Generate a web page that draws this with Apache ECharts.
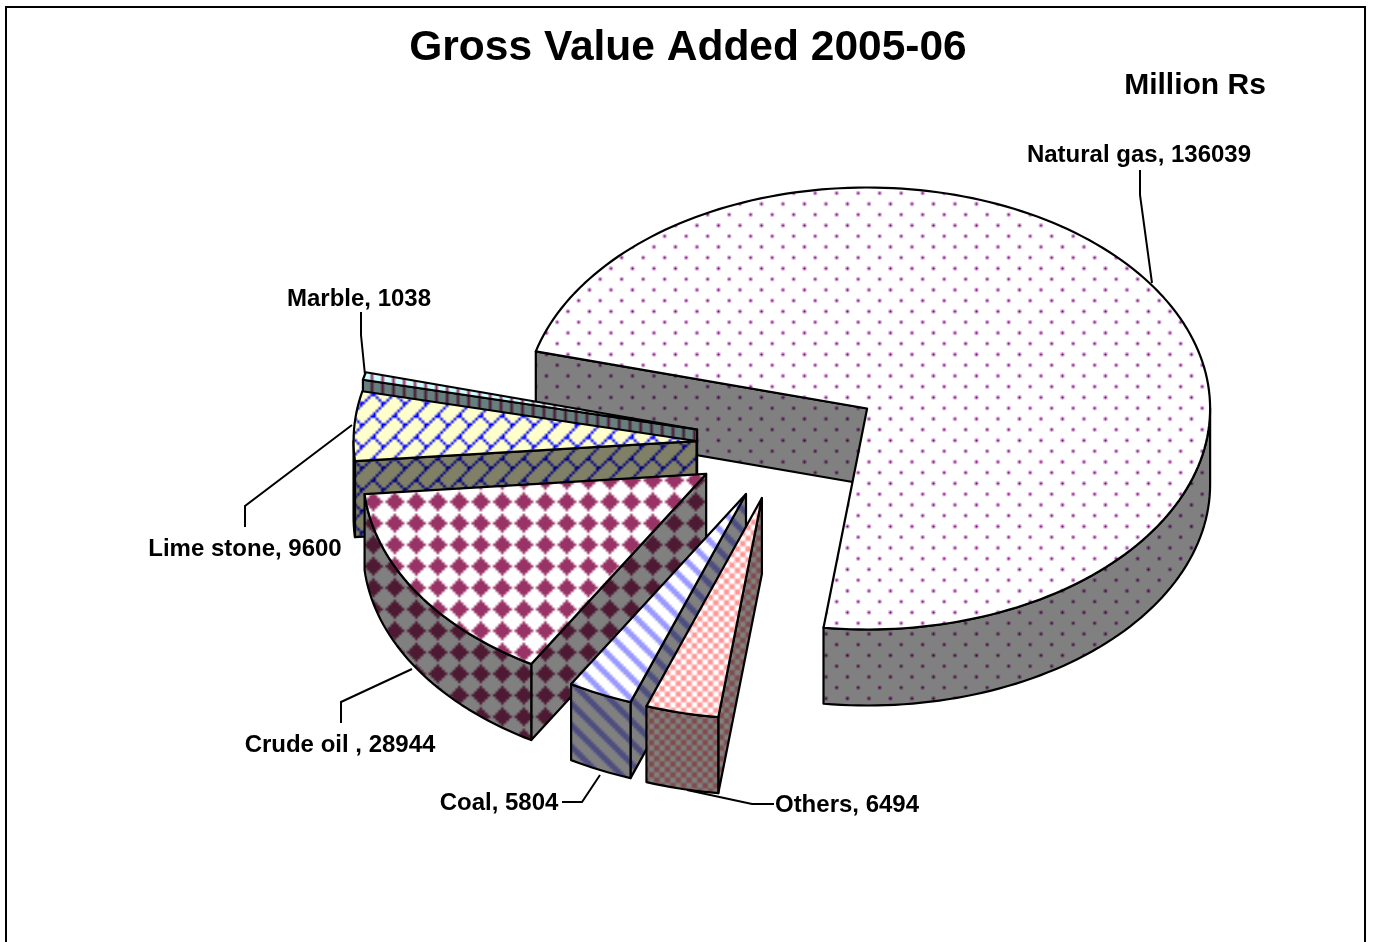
<!DOCTYPE html>
<html>
<head>
<meta charset="utf-8">
<title>Gross Value Added 2005-06</title>
<script src="https://cdn.jsdelivr.net/npm/echarts@6/dist/echarts.min.js"></script>
<style>
  html, body { margin: 0; padding: 0; background: #fff; }
  #chart { width: 1373px; height: 942px; }
</style>
</head>
<body>
<div id="chart"></div>
<script>
const chartTitle = "Gross Value Added 2005-06";
const unitLabel = "Million Rs";
const categories = ["Natural gas", "Others", "Coal", "Crude oil ", "Lime stone", "Marble"];
const values = [136039, 6494, 5804, 28944, 9600, 1038];

// excel paints the slices back to front
const drawOrder = [0, 5, 4, 3, 2, 1];

// pie geometry
const centerX = 778;
const centerY = 445;
const radiusX = 343;
const radiusY = 221;
const depth = 76;
const firstAngle = 195; // degrees, clockwise on screen
const explodeX = [0.316, 0.229, 0.233, 0.25, 0.238, 0.243];
const explodeY = [0.29, 0.245, 0.242, 0.24, 0.27, 0.29];

// 8x8 excel fill bitmaps
const BITMAP_DOTS = [0x80, 0, 0, 0, 0x08, 0, 0, 0];
const BITMAP_CHECKER = [0x99, 0x66, 0x66, 0x99, 0x99, 0x66, 0x66, 0x99];
const BITMAP_WIDE_DIAG = [0x83, 0xc1, 0xe0, 0x70, 0x38, 0x1c, 0x0e, 0x07];
const BITMAP_DIAMOND = [0x08, 0x1c, 0x3e, 0x7f, 0x3e, 0x1c, 0x08, 0x00];
const BITMAP_BRICK = [0x01, 0x02, 0x04, 0x08, 0x18, 0x24, 0x42, 0x81];
const BITMAP_VLINES = [0x88, 0x88, 0x88, 0x88, 0x88, 0x88, 0x88, 0x88];

const PERIOD = 21.5; // one bitmap repeat on screen

function makeTile(rows, fg, bg, phaseX, phaseY) {
  const src = document.createElement("canvas");
  src.width = 48;
  src.height = 48;
  const sctx = src.getContext("2d");
  sctx.fillStyle = bg;
  sctx.fillRect(0, 0, 48, 48);
  sctx.fillStyle = fg;
  for (let y = 0; y < 48; y++) {
    for (let x = 0; x < 48; x++) {
      if (rows[y % 8] & (0x80 >> (x % 8))) sctx.fillRect(x, y, 1, 1);
    }
  }
  const tile = document.createElement("canvas");
  tile.width = 43;
  tile.height = 43;
  const ctx = tile.getContext("2d");
  ctx.imageSmoothingEnabled = true;
  const ox = (phaseX % PERIOD) - 2 * PERIOD;
  const oy = (phaseY % PERIOD) - 2 * PERIOD;
  ctx.drawImage(src, ox, oy, 6 * PERIOD, 6 * PERIOD);
  return { image: tile, repeat: "repeat" };
}

function makeFills(rows, fg, bg, wallFg, wallBg, phaseX, phaseY) {
  return {
    top: makeTile(rows, fg, bg, phaseX, phaseY),
    wall: makeTile(rows, wallFg, wallBg, phaseX, phaseY),
  };
}

const fills = [
  makeFills(BITMAP_DOTS, "#800080", "#ffffff", "#400040", "#808080", 7.5, 9),
  makeFills(BITMAP_CHECKER, "#ff9999", "#ffffff", "#804d4d", "#808080", 17.1, 0.75),
  makeFills(BITMAP_WIDE_DIAG, "#9999ff", "#ffffff", "#4d4d80", "#808080", 21, 0),
  makeFills(BITMAP_DIAMOND, "#993366", "#ffffff", "#4d1933", "#808080", 17.2, 19.3),
  makeFills(BITMAP_BRICK, "#0000ff", "#ffffcc", "#000080", "#808066", 18.25, 17.25),
  makeFills(BITMAP_VLINES, "#993366", "#ccffff", "#4d1933", "#668080", 15.8, 0),
];

const labelLayout = [
  { x: 1139, y: 155, line: [[1140, 170], [1140, 195], [1152, 283]] },
  { x: 847, y: 805, line: [[774, 804], [752, 804], [687, 790]] },
  { x: 499, y: 803, line: [[562, 802], [582, 802], [600, 775]] },
  { x: 340, y: 745, line: [[341, 723], [341, 702], [412, 669]] },
  { x: 245, y: 549, line: [[245, 527], [245, 506], [352, 425]] },
  { x: 359, y: 299, line: [[361, 312], [361, 335], [365, 375]] },
];

const total = values.reduce((a, b) => a + b, 0);
const sliceStart = [];
let running = firstAngle;
values.forEach((v) => {
  sliceStart.push(running);
  running += (v / total) * 360;
});

function rimPoint(ox, oy, deg) {
  // the front of excel's tilted pie reads slightly further round than its true angle
  const s = Math.sin((deg * Math.PI) / 180);
  const r = ((deg + 1.7 * Math.max(0, s)) * Math.PI) / 180;
  return [ox + radiusX * Math.cos(r), oy + radiusY * Math.sin(r)];
}

function arcPoints(ox, oy, from, to) {
  const pts = [];
  const steps = Math.max(2, Math.ceil(Math.abs(to - from) / 1.5));
  for (let k = 0; k <= steps; k++) {
    pts.push(rimPoint(ox, oy, from + ((to - from) * k) / steps));
  }
  return pts;
}

const edge = { stroke: "#000", lineWidth: 2.2, lineJoin: "round" };

function renderSlice(params, api) {
  const i = api.value(0);
  const from = sliceStart[i];
  const to = from + (api.value(1) / total) * 360;
  const mid = ((from + to) / 2) * (Math.PI / 180);
  const ox = centerX + explodeX[i] * radiusX * Math.cos(mid);
  const oy = centerY + explodeY[i] * radiusY * Math.sin(mid);
  const children = [];

  // cut face at the start angle is the only one turned to the viewer
  const cut = rimPoint(ox, oy, from);
  children.push({
    type: "polygon",
    shape: { points: [[ox, oy], cut, [cut[0], cut[1] + depth], [ox, oy + depth]] },
    style: Object.assign({ fill: fills[i].wall }, edge),
  });

  // rim wall, only the front half shows
  [0, 360].forEach((base) => {
    const lo = Math.max(from, base);
    const hi = Math.min(to, base + 180);
    if (hi <= lo) return;
    const upper = arcPoints(ox, oy, lo, hi);
    const lower = arcPoints(ox, oy + depth, hi, lo);
    children.push({
      type: "polygon",
      shape: { points: upper.concat(lower) },
      style: Object.assign({ fill: fills[i].wall }, edge),
    });
  });

  children.push({
    type: "polygon",
    shape: { points: [[ox, oy]].concat(arcPoints(ox, oy, from, to)) },
    style: Object.assign({ fill: fills[i].top }, edge),
  });

  const lab = labelLayout[i];
  children.push({
    type: "polyline",
    shape: { points: lab.line },
    style: { stroke: "#000", lineWidth: 2, fill: null },
  });
  children.push({
    type: "text",
    style: {
      text: categories[i] + ", " + api.value(1),
      x: lab.x,
      y: lab.y,
      fill: "#000",
      font: "bold 24px 'Liberation Sans', Arial, sans-serif",
      align: "center",
      verticalAlign: "middle",
    },
  });
  return { type: "group", children };
}

const chart = echarts.init(document.getElementById("chart"), null, { renderer: "canvas" });
chart.setOption({
  animation: false,
  backgroundColor: "#ffffff",
  title: [
    {
      text: chartTitle,
      left: 683,
      top: 22,
      textAlign: "center",
      textStyle: { fontFamily: "Liberation Sans", fontWeight: "bold", fontSize: 42.5, color: "#000" },
    },
    {
      text: unitLabel,
      left: 1190,
      top: 66,
      textAlign: "center",
      textStyle: { fontFamily: "Liberation Sans", fontWeight: "bold", fontSize: 30, color: "#000" },
    },
  ],
  graphic: [
    {
      type: "polyline",
      shape: { points: [[6, 942], [6, 7], [1365, 7], [1365, 942]] },
      style: { stroke: "#000", lineWidth: 2, fill: null },
    },
  ],
  series: [
    {
      type: "custom",
      coordinateSystem: "none",
      silent: true,
      data: drawOrder.map((i) => [i, values[i]]),
      renderItem: renderSlice,
    },
  ],
});
</script>
</body>
</html>
